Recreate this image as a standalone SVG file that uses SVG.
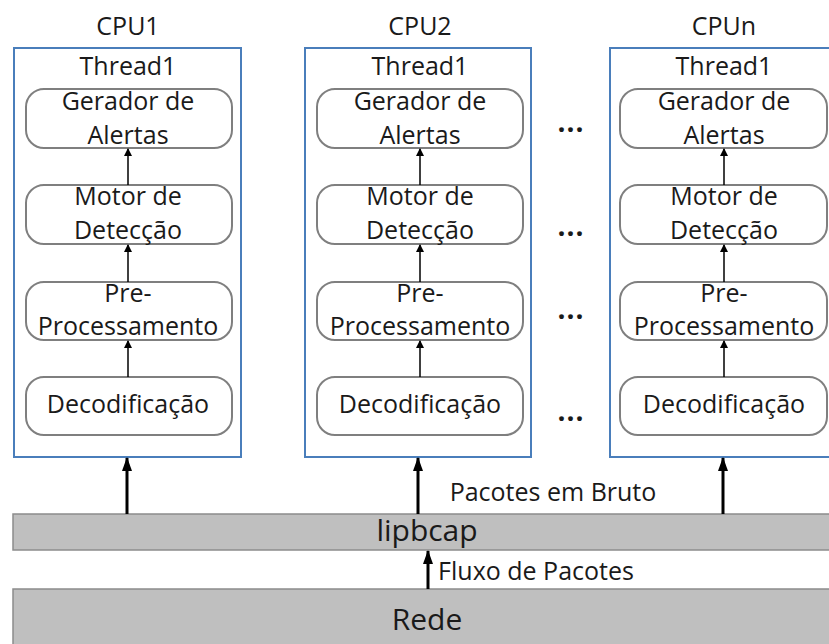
<svg xmlns="http://www.w3.org/2000/svg" width="829" height="644" viewBox="0 0 829 644">
<defs>
<style>
text{font-family:"Open Sans","Liberation Sans",sans-serif;font-size:25px;fill:#1a1a1a;text-anchor:middle}
.cpu{fill:#fff;stroke:#4a7ebb;stroke-width:2}
.st{fill:#fff;stroke:#7f7f7f;stroke-width:2}
.bar{fill:#bfbfbf;stroke:#8c8c8c;stroke-width:1.5}
.thin{stroke:#000;stroke-width:1.5;fill:none;marker-end:url(#ah)}
.thick{stroke:#000;stroke-width:3;fill:none;marker-end:url(#ahb)}
.dots{font-size:28px;font-weight:bold;letter-spacing:1px}
.big{font-size:30px}
</style>
<marker id="ah" markerWidth="8" markerHeight="10" refX="7" refY="5" orient="auto" markerUnits="userSpaceOnUse"><path d="M0,1 L8,5 L0,9 z" fill="#000"/></marker>
<marker id="ahb" markerWidth="14" markerHeight="12" refX="13" refY="6" orient="auto" markerUnits="userSpaceOnUse"><path d="M0,1 L14,6 L0,11 z" fill="#000"/></marker>
</defs>
<rect width="829" height="644" fill="#fff"/>
<g id="rede"><rect class="bar" x="13" y="589" width="820" height="60"/><text class="big" x="427" y="630">Rede</text></g>
<g id="lipbcap"><rect class="bar" x="13" y="514" width="820" height="36"/><text class="big" x="427" y="541">lipbcap</text></g>
<g id="cpu1">
<text x="128" y="35">CPU1</text>
<rect class="cpu" x="14" y="48" width="227" height="409"/>
<text x="128" y="75">Thread1</text>
<rect class="st" x="26" y="89" width="206" height="59" rx="18"/><text x="128" y="110">Gerador de</text><text x="128" y="144">Alertas</text>
<rect class="st" x="26" y="185" width="206" height="59" rx="18"/><text x="128" y="205">Motor de</text><text x="128" y="239">Detecção</text>
<rect class="st" x="26" y="282" width="206" height="58" rx="18"/><text x="128" y="302">Pre-</text><text x="128" y="335">Processamento</text>
<rect class="st" x="26" y="377" width="206" height="58" rx="18"/><text x="128" y="413">Decodificação</text>
</g>
<g id="cpu2">
<text x="420" y="35">CPU2</text>
<rect class="cpu" x="305" y="48" width="226" height="409"/>
<text x="420" y="75">Thread1</text>
<rect class="st" x="317" y="89" width="206" height="59" rx="18"/><text x="420" y="110">Gerador de</text><text x="420" y="144">Alertas</text>
<rect class="st" x="317" y="185" width="206" height="59" rx="18"/><text x="420" y="205">Motor de</text><text x="420" y="239">Detecção</text>
<rect class="st" x="317" y="282" width="206" height="58" rx="18"/><text x="420" y="302">Pre-</text><text x="420" y="335">Processamento</text>
<rect class="st" x="317" y="377" width="206" height="58" rx="18"/><text x="420" y="413">Decodificação</text>
</g>
<g id="cpun">
<text x="724" y="35">CPUn</text>
<rect class="cpu" x="610" y="48" width="224" height="409"/>
<text x="724" y="75">Thread1</text>
<rect class="st" x="620" y="89" width="207" height="59" rx="18"/><text x="724" y="110">Gerador de</text><text x="724" y="144">Alertas</text>
<rect class="st" x="620" y="185" width="207" height="59" rx="18"/><text x="724" y="205">Motor de</text><text x="724" y="239">Detecção</text>
<rect class="st" x="620" y="282" width="207" height="58" rx="18"/><text x="724" y="302">Pre-</text><text x="724" y="335">Processamento</text>
<rect class="st" x="620" y="377" width="207" height="58" rx="18"/><text x="724" y="413">Decodificação</text>
</g>
<g id="dots">
<text class="dots" x="571" y="132">...</text>
<text class="dots" x="571" y="236">...</text>
<text class="dots" x="571" y="319">...</text>
<text class="dots" x="571" y="421">...</text>
</g>
<g id="labels">
<text x="553" y="501">Pacotes em Bruto</text>
<text x="536" y="580">Fluxo de Pacotes</text>
</g>
<g id="connectors">
<path class="thin" d="M128,185 V149"/><path class="thin" d="M128,282 V245"/><path class="thin" d="M128,377 V341"/>
<path class="thin" d="M420,185 V149"/><path class="thin" d="M420,282 V245"/><path class="thin" d="M420,377 V341"/>
<path class="thin" d="M724,185 V149"/><path class="thin" d="M724,282 V245"/><path class="thin" d="M724,377 V341"/>
<path class="thick" d="M127,514 V458"/><path class="thick" d="M418,514 V458"/><path class="thick" d="M723,514 V458"/>
<path class="thick" d="M428,589 V551"/>
</g>
</svg>
